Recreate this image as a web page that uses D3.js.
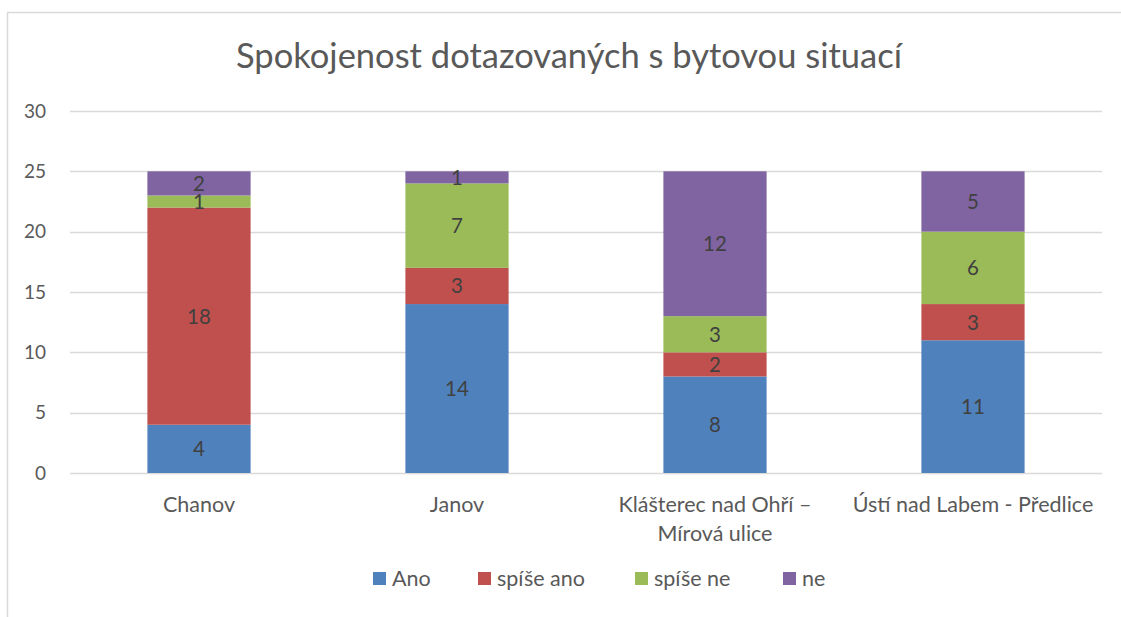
<!DOCTYPE html>
<html><head><meta charset="utf-8">
<script src="https://cdn.jsdelivr.net/npm/d3@7"></script>
<style>
html,body{margin:0;background:#fff;overflow:hidden;}
svg{display:block;}
text{font-family:Lato,"Open Sans",sans-serif;}
</style></head>
<body><svg id="c" width="1121" height="617"></svg>
<script>
const categories = ["Chanov", "Janov", "Klášterec nad Ohří – Mírová ulice", "Ústí nad Labem - Předlice"];
const seriesNames = ["Ano", "spíše ano", "spíše ne", "ne"];
const ano = [4, 14, 8, 11];
const spiseAno = [18, 3, 2, 3];
const spiseNe = [1, 7, 3, 6];
const ne = [2, 1, 12, 5];
const yTicks = [0, 5, 10, 15, 20, 25, 30];
const colors = ["#4F81BD", "#C0504D", "#9BBB59", "#8064A2"];
const title = "Spokojenost dotazovaných s bytovou situací";

const seriesValues = [ano, spiseAno, spiseNe, ne];
const rows = categories.map((c, i) => {
  const r = {cat: c};
  seriesNames.forEach((s, j) => r[s] = seriesValues[j][i]);
  return r;
});
const stacked = d3.stack().keys(seriesNames)(rows);

const svg = d3.select("#c");
svg.append("rect").attr("x", 7.5).attr("y", 12.5).attr("width", 1130).attr("height", 620)
  .attr("fill", "#fff").attr("stroke", "#d9d9d9").attr("stroke-width", 1.5);

const pLeft = 70, pRight = 1102, pTop = 111, pBottom = 473;
const x = d3.scaleBand().domain(categories).range([pLeft, pRight]).paddingInner(0.6).paddingOuter(0.3);
const y = d3.scaleLinear().domain([0, 30]).range([pBottom, pTop]);

svg.append("text").attr("x", 569).attr("y", 68).attr("text-anchor", "middle")
  .attr("fill", "#595959").style("font-size", "34.5px").text(title);

svg.append("g").selectAll("line").data(yTicks).join("line")
  .attr("x1", pLeft).attr("x2", pRight)
  .attr("y1", d => Math.round(y(d)) + 0.5).attr("y2", d => Math.round(y(d)) + 0.5)
  .attr("stroke", "#d9d9d9").attr("stroke-width", 1.5);

const yAxis = svg.append("g").attr("transform", `translate(${pLeft},0)`)
  .call(d3.axisLeft(y).tickValues(yTicks).tickSize(0).tickPadding(24));
yAxis.select(".domain").remove();
yAxis.selectAll("text").attr("fill", "#595959").style("font-size", "19px").style("font-family", "Lato");

svg.append("g").selectAll("g").data(stacked).join("g")
  .attr("fill", (d, i) => colors[i])
  .selectAll("rect").data(d => d).join("rect")
  .attr("x", d => x(d.data.cat)).attr("width", x.bandwidth())
  .attr("y", d => y(d[1])).attr("height", d => y(d[0]) - y(d[1]));

svg.append("g").selectAll("g").data(stacked).join("g")
  .selectAll("text").data(d => d).join("text")
  .attr("x", d => x(d.data.cat) + x.bandwidth() / 2)
  .attr("y", d => (y(d[0]) + y(d[1])) / 2)
  .attr("dy", "0.36em").attr("text-anchor", "middle")
  .attr("fill", "#404040").style("font-size", "20.5px")
  .text(d => d[1] - d[0]);

const xg = svg.append("g");
categories.forEach(c => {
  const cx = x(c) + x.bandwidth() / 2;
  const t = xg.append("text").attr("x", cx).attr("y", 512)
    .attr("text-anchor", "middle").attr("fill", "#595959").style("font-size", "21.5px");
  const words = c.split(" ");
  let line = [], tspan = t.append("tspan").attr("x", cx).attr("dy", 0);
  words.forEach(w => {
    line.push(w);
    tspan.text(line.join(" "));
    if (tspan.node().getComputedTextLength() > 250 && line.length > 1) {
      line.pop();
      tspan.text(line.join(" "));
      line = [w];
      tspan = t.append("tspan").attr("x", cx).attr("dy", "29px").text(w);
    }
  });
});

const legendX = [373, 478, 635, 783];
const lg = svg.append("g");
seriesNames.forEach((s, i) => {
  lg.append("rect").attr("x", legendX[i]).attr("y", 572).attr("width", 13).attr("height", 13).attr("fill", colors[i]);
  lg.append("text").attr("x", legendX[i] + 19).attr("y", 586)
    .attr("fill", "#595959").style("font-size", "21.5px").text(s);
});
</script></body></html>
